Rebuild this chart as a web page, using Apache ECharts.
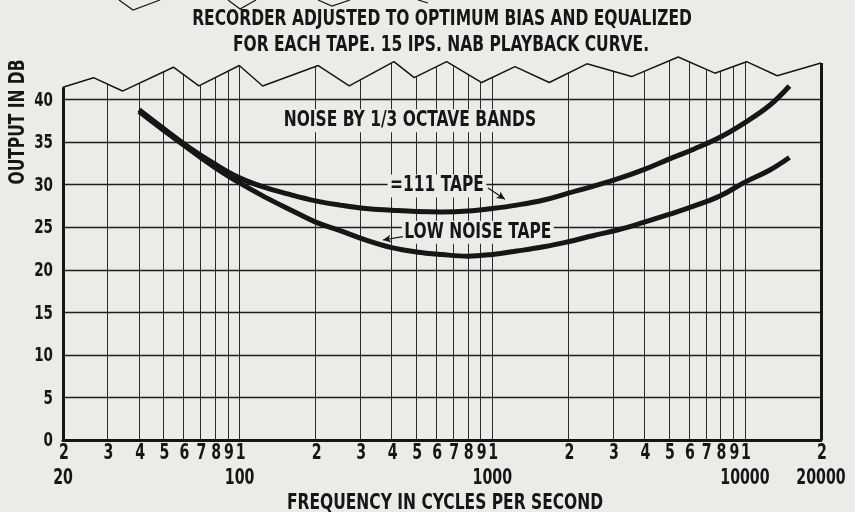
<!DOCTYPE html>
<html>
<head>
<meta charset="utf-8">
<script src="https://cdn.jsdelivr.net/npm/echarts@6/dist/echarts.min.js"></script>
<style>
  html, body { margin: 0; padding: 0; background: #ecebe8; }
  #chart { width: 855px; height: 512px; }
</style>
</head>
<body>
<div id="chart"></div>
<script>
// 1/3-octave band centre frequencies (Hz)
const bandFreqs = [40, 50, 63, 80, 100, 125, 160, 200, 250, 315, 400, 500, 630, 800,
  1000, 1250, 1600, 2000, 2500, 3150, 4000, 5000, 6300, 8000, 10000, 12500, 15000];
// Noise output (dB) per band
const tape111 = [38.8, 36.6, 34.4, 32.4, 30.8, 29.7, 28.8, 28.1, 27.6, 27.2, 27.0, 26.85, 26.8, 26.9,
  27.2, 27.6, 28.2, 29.0, 29.8, 30.7, 31.8, 33.0, 34.2, 35.6, 37.3, 39.3, 41.6];
const lowNoise = [38.6, 36.4, 34.2, 32.0, 30.2, 28.6, 27.0, 25.6, 24.6, 23.5, 22.6, 22.1, 21.8, 21.6,
  21.8, 22.2, 22.7, 23.3, 24.0, 24.7, 25.6, 26.5, 27.5, 28.7, 30.3, 31.7, 33.2];

// Frequency grid lines and their printed digits
const gridFreqs = [20, 30, 40, 50, 60, 70, 80, 90, 100, 200, 300, 400, 500, 600, 700, 800, 900,
  1000, 2000, 3000, 4000, 5000, 6000, 7000, 8000, 9000, 10000, 20000];
const tickDigits = ['2', '3', '4', '5', '6', '7', '8', '9', '1', '2', '3', '4', '5', '6', '7', '8', '9',
  '1', '2', '3', '4', '5', '6', '7', '8', '9', '1', '2'];
const decadeFreqs = [20, 100, 1000, 10000, 20000];
const decadeNames = ['20', '100', '1000', '10000', '20000'];
const dbTicks = [0, 5, 10, 15, 20, 25, 30, 35, 40];

// Ragged top edge of the graph sheet
const edgeFreqs = [20, 26.4, 34.4, 54.7, 69.0, 99.7, 123.4, 204.8, 271.6, 408, 491, 660, 908,
  1230, 1681, 2370, 3562, 5444, 7604, 10150, 13420, 20000];
const edgeDb = [41.45, 42.57, 41.0, 43.8, 41.6, 44.0, 41.6, 44.0, 41.6, 44.45, 42.57, 44.45, 42.0,
  43.87, 42.0, 44.2, 42.7, 45.0, 43.1, 44.45, 42.8, 44.3];

const titleLines = ['RECORDER ADJUSTED TO OPTIMUM BIAS AND EQUALIZED',
  'FOR EACH TAPE. 15 IPS. NAB PLAYBACK CURVE.'];
const yAxisTitle = 'OUTPUT IN DB';
const xAxisTitle = 'FREQUENCY IN CYCLES PER SECOND';

// Captions placed in data space: [frequency, dB, text]
const captions = [
  [472, 37.5, 'NOISE BY 1/3 OCTAVE BANDS'],
  [604, 29.85, '=111 TAPE'],
  [877, 24.4, 'LOW NOISE TAPE']
];
// Pointer arrows: [fromFreq, fromDb, toFreq, toDb]
const pointers = [
  [962, 29.6, 1122, 28.3],
  [443, 23.9, 369, 23.5]
];

const PAPER = '#ecebe8';
const INK = '#161616';
const FONT = "'DejaVu Sans Condensed', 'Liberation Sans Narrow', sans-serif";
const Y_MAX = 46;
const RULE_TOP = 45.6;  // ruling stops just under the top of the grid; the torn edge hides the rest
const SQUEEZE = 0.82;   // condensed face of the lettering
const DIGIT_SQUEEZE = 0.75;

const chart = echarts.init(document.getElementById('chart'), null, { renderer: 'canvas' });

const zip = (xs, ys) => xs.map((x, i) => [x, ys[i]]);
const noLabel = { show: false };
const xMin = gridFreqs[0];
const xMax = gridFreqs[gridFreqs.length - 1];

chart.setOption({
  backgroundColor: PAPER,
  animation: false,
  grid: { left: 63, right: 34, top: 48.5, bottom: 72 },
  xAxis: {
    type: 'log', logBase: 10, min: xMin, max: xMax,
    axisLine: { show: true, lineStyle: { color: INK, width: 3 } },
    axisTick: { show: false }, axisLabel: { show: false }, splitLine: { show: false }
  },
  yAxis: {
    type: 'value', min: 0, max: Y_MAX, interval: 5,
    axisLine: { show: false }, axisTick: { show: false }, splitLine: { show: false },
    axisLabel: { show: false }
  },
  series: [
    {
      // graph-paper ruling (vertical); the outer two are the frame
      name: 'ruling', type: 'line', data: [], silent: true,
      markLine: {
        z: 1, silent: true, symbol: ['none', 'none'], animation: false,
        lineStyle: { color: '#2a2a2a', width: 1, type: 'solid' },
        label: noLabel,
        data: gridFreqs.filter(f => f > xMin && f < xMax)
          .map(f => [{ coord: [f, 0] }, { coord: [f, RULE_TOP] }])
      }
    },
    {
      // graph-paper ruling (horizontal)
      name: 'rulingH', type: 'line', data: [], silent: true,
      markLine: {
        z: 1, silent: true, symbol: ['none', 'none'], animation: false,
        lineStyle: { color: '#1e1e1e', width: 1.4, type: 'solid' },
        label: noLabel,
        data: dbTicks.filter(v => v > 0).map(v => ({ yAxis: v }))
      }
    },
    {
      // torn sheet edge: paper fills everything above it
      name: 'edge', type: 'line', z: 2, silent: true, symbol: 'none',
      data: zip(edgeFreqs, edgeDb),
      lineStyle: { color: INK, width: 1.5 },
      areaStyle: { color: PAPER, opacity: 1, origin: 'end' },
      markLine: {
        z: 2, silent: true, symbol: ['none', 'none'], animation: false,
        lineStyle: { color: INK, width: 3, type: 'solid' },
        label: noLabel,
        data: [
          [{ coord: [edgeFreqs[0], 0] }, { coord: [edgeFreqs[0], edgeDb[0]] }],
          [{ coord: [edgeFreqs[edgeFreqs.length - 1], 0] },
           { coord: [edgeFreqs[edgeFreqs.length - 1], edgeDb[edgeDb.length - 1]] }]
        ]
      }
    },
    {
      name: '111 TAPE', type: 'line', z: 4, symbol: 'none', smooth: 0.4,
      data: zip(bandFreqs, tape111),
      lineStyle: { color: INK, width: 5 }
    },
    {
      name: 'LOW NOISE TAPE', type: 'line', z: 4, symbol: 'none', smooth: 0.4,
      data: zip(bandFreqs, lowNoise),
      lineStyle: { color: INK, width: 5 }
    },
    {
      name: 'pointers', type: 'line', data: [], silent: true,
      markLine: {
        z: 4, silent: true, symbol: ['none', 'arrow'], symbolSize: [6, 8], animation: false,
        lineStyle: { color: INK, width: 1.2, type: 'solid' },
        label: noLabel,
        data: pointers.map(p => [{ coord: [p[0], p[1]] }, { coord: [p[2], p[3]] }])
      }
    }
  ]
});

// Lettering, positioned through the grid's own coordinate system
const toPx = (f, v) => chart.convertToPixel({ gridIndex: 0 }, [f, v]);
const text = (x, y, str, opts) => Object.assign({
  type: 'text', x: x, y: y, z: 3, silent: true,
  scaleX: SQUEEZE,
  style: Object.assign({ text: str, font: 'bold 21px ' + FONT, fill: INK, align: 'center', verticalAlign: 'middle' },
    (opts && opts.style) || {})
}, opts && opts.el);

const graphics = [];
graphics.push(text(442, 20, titleLines[0]));
graphics.push(text(441, 46, titleLines[1]));
graphics.push(text(445, 504, xAxisTitle));
graphics.push(text(19, 122, yAxisTitle, { el: { rotation: Math.PI / 2 } }));

// y tick labels
dbTicks.forEach(v => {
  const p = toPx(xMin, v);
  graphics.push(text(p[0] - 10, p[1] + 1, String(v),
    { el: { scaleX: DIGIT_SQUEEZE }, style: { align: 'right', font: 'bold 20px ' + FONT } }));
});
// x tick digits and decade values
gridFreqs.forEach((f, i) => {
  const p = toPx(f, 0);
  graphics.push(text(p[0] + 1, p[1] + 14, tickDigits[i], { el: { scaleX: DIGIT_SQUEEZE } }));
  const d = decadeFreqs.indexOf(f);
  if (d >= 0) {
    graphics.push(text(p[0], p[1] + 39, decadeNames[d], { el: { scaleX: DIGIT_SQUEEZE } }));
  }
});
// captions with a paper backing that hides the ruling behind them
captions.forEach(c => {
  const p = toPx(c[0], c[1]);
  graphics.push(text(p[0], p[1], c[2], { style: { backgroundColor: PAPER, padding: [1, 3] } }));
});

// fragments of the neighbouring sheet's torn edge at the very top
const topScraps = [
  [[119, 0], [133, 10], [160, 0]],
  [[228, 0], [240, 9], [256, 0]],
  [[318, 0], [332, 6], [350, 0]],
  [[418, 0], [428, 3]]
];
topScraps.forEach(pts => graphics.push({
  type: 'polyline', z: 3, silent: true,
  shape: { points: pts },
  style: { stroke: INK, lineWidth: 1.2, fill: null }
}));

chart.setOption({ graphic: graphics });
</script>
</body>
</html>
